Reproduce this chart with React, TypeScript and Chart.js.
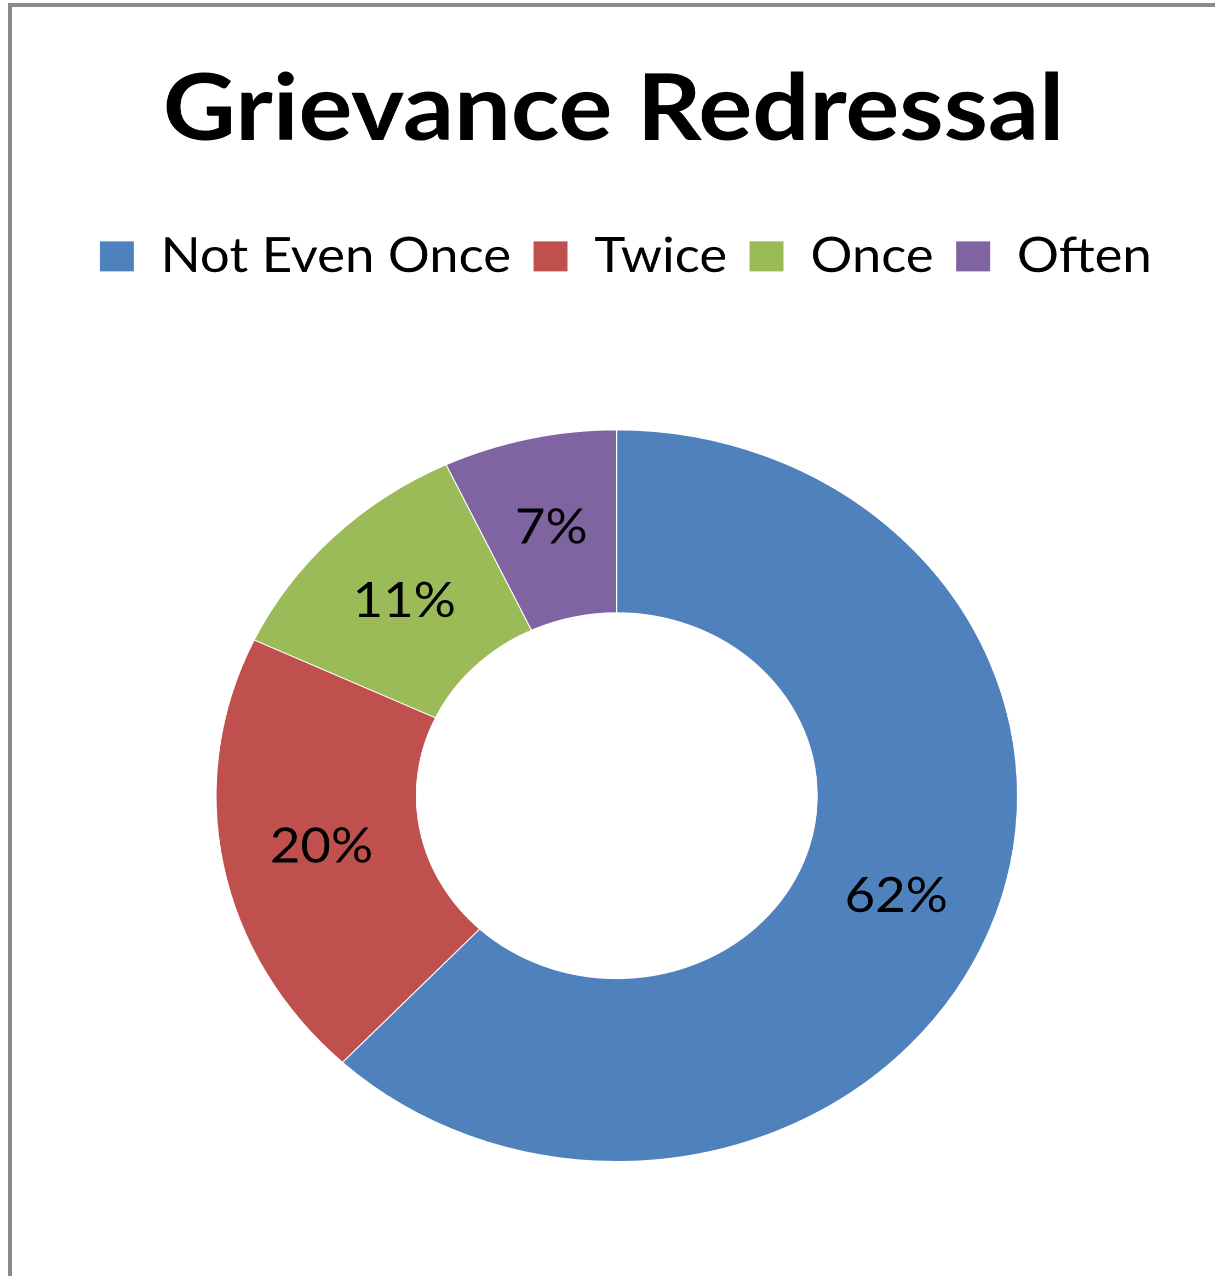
import React, { useEffect, useRef } from "react";
import { Chart, registerables } from "chart.js";

Chart.register(...registerables);

// ---- data ----
const categories = ["Not Even Once", "Twice", "Once", "Often"];
const values = [62, 20, 11, 7];
const colors = ["#4F81BD", "#C0504D", "#9BBB59", "#8064A2"];
const titleText = "Grievance Redressal";

// ---- layout ----
const SX = 1.0955; // the reference is stretched horizontally
const PAGE_W = 1215;
const PAGE_H = 1276;
const CANVAS_W = Math.round(PAGE_W / SX);
const FONT = "Lato, 'Open Sans', sans-serif";
const LEGEND_EXTRA = 139;
const LEGEND_SHIFT_X = 8;
const TITLE_SHIFT_X = -3;

function shiftDraw(box: any, dx: number) {
  if (!box || box.__shifted) return;
  const origDraw = box.draw;
  box.draw = function (...args: any[]) {
    const ctx = this.ctx;
    ctx.save();
    ctx.translate(dx, 0);
    origDraw.apply(this, args);
    ctx.restore();
  };
  box.__shifted = true;
}

export default function App() {
  const ref = useRef<HTMLCanvasElement | null>(null);

  useEffect(() => {
    const prevMargin = document.body.style.margin;
    document.body.style.margin = "0";
    if (!ref.current) return;

    const boxTweaks = {
      id: "boxTweaks",
      beforeLayout(chart: any) {
        const legend = chart.legend;
        if (legend && !legend.__patched) {
          const origFit = legend.fit;
          legend.fit = function () {
            origFit.call(this);
            this.height += LEGEND_EXTRA;
          };
          legend.__patched = true;
        }
        shiftDraw(chart.legend, LEGEND_SHIFT_X);
        shiftDraw(chart.titleBlock, TITLE_SHIFT_X);
      },
    };

    const sliceLabels = {
      id: "sliceLabels",
      afterDatasetsDraw(chart: any) {
        const ctx = chart.ctx;
        const meta = chart.getDatasetMeta(0);
        const data = chart.data.datasets[0].data as number[];
        ctx.save();
        ctx.font = `48px ${FONT}`;
        ctx.fillStyle = "#000000";
        ctx.textAlign = "center";
        ctx.textBaseline = "middle";
        meta.data.forEach((arc: any, i: number) => {
          const p = arc.tooltipPosition(false);
          ctx.fillText(`${data[i]}%`, p.x, p.y);
        });
        ctx.restore();
      },
    };

    const chart = new Chart(ref.current, {
      type: "doughnut",
      data: {
        labels: categories,
        datasets: [
          {
            data: values,
            backgroundColor: colors,
            borderColor: "#ffffff",
            borderWidth: 1,
          },
        ],
      },
      options: {
        animation: false,
        responsive: false,
        devicePixelRatio: 2,
        cutout: "50%",
        layout: { padding: { left: 17, right: 0, top: 0, bottom: 114 } },
        plugins: {
          title: {
            display: true,
            text: titleText,
            color: "#000000",
            font: { family: FONT, size: 92, weight: "bold" },
            padding: { top: 55, bottom: 47 },
          },
          legend: {
            display: true,
            position: "top",
            labels: {
              color: "#000000",
              font: { family: FONT, size: 48 },
              boxWidth: 32,
              boxHeight: 31,
              padding: 20,
            },
          },
          tooltip: { enabled: false },
        },
      },
      plugins: [boxTweaks, sliceLabels],
    });

    return () => {
      chart.destroy();
      document.body.style.margin = prevMargin;
    };
  }, []);

  return (
    <div
      style={{
        position: "relative",
        width: PAGE_W,
        height: PAGE_H,
        overflow: "hidden",
        background: "#ffffff",
      }}
    >
      <div
        style={{
          position: "absolute",
          left: 0,
          top: 0,
          width: CANVAS_W,
          height: PAGE_H,
          transform: `scaleX(${SX})`,
          transformOrigin: "0 0",
        }}
      >
        <canvas
          ref={ref}
          width={CANVAS_W}
          height={PAGE_H}
          style={{ display: "block", width: CANVAS_W, height: PAGE_H }}
        />
      </div>
      <div
        style={{
          position: "absolute",
          left: 8,
          top: 3,
          width: PAGE_W + 20,
          height: PAGE_H + 20,
          borderLeft: "4px solid #8a8a8a",
          borderTop: "4px solid #8a8a8a",
          pointerEvents: "none",
        }}
      />
    </div>
  );
}
